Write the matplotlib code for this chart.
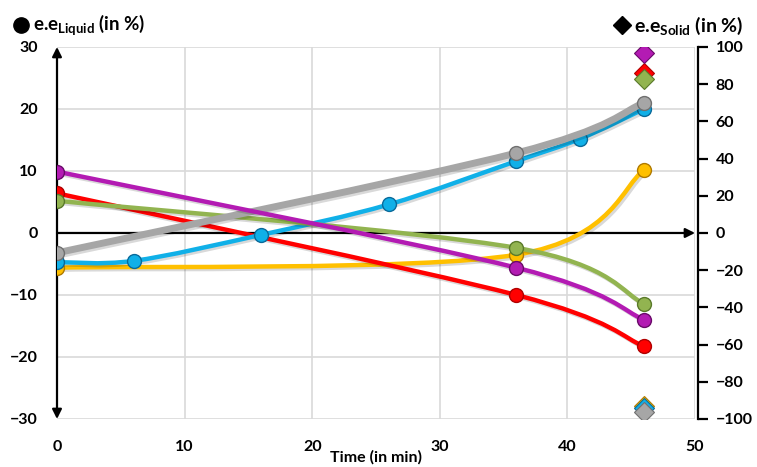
import numpy as np
import matplotlib.pyplot as plt
from matplotlib.path import Path
from matplotlib.patches import PathPatch
import matplotlib.patheffects as pe

plt.rcParams['font.family'] = ['Lato', 'DejaVu Sans']
plt.rcParams['mathtext.fontset'] = 'custom'
plt.rcParams['mathtext.rm'] = 'Lato'
plt.rcParams['mathtext.bf'] = 'Lato:bold'

# e.e of the liquid phase (left axis)
red_t = [0, 36, 46]
red_ee = [6.4, -10.0, -18.3]
magenta_t = [0, 36, 46]
magenta_ee = [9.9, -5.6, -14.0]
green_t = [0, 36, 46]
green_ee = [5.2, -2.4, -11.4]
yellow_t = [0, 36, 46]
yellow_ee = [-5.6, -3.5, 10.1]
gray_t = [0, 36, 46]
gray_ee = [-3.2, 12.9, 21.0]
blue_t = [0, 6, 16, 26, 36, 41, 46]
blue_ee = [-4.7, -4.5, -0.3, 4.6, 11.6, 15.2, 20.0]

# e.e of the solid phase (right axis), all at t = 46 min
solid_t = 46
solid_order = ['red', 'green', 'magenta', 'yellow', 'blue', 'gray']
solid_ee = {'red': 86, 'green': 83, 'magenta': 97,
            'yellow': -93, 'blue': -94, 'gray': -96}

colors = {'red': '#FF0000', 'magenta': '#B31BB3', 'green': '#92B450',
          'yellow': '#FFC000', 'gray': '#A6A6A6', 'blue': '#10B0E8'}
edges = {'red': '#B00000', 'magenta': '#6A0A6A', 'green': '#5A7A2A',
         'yellow': '#B07A00', 'gray': '#707070', 'blue': '#0A6A9A'}

series = [('yellow', yellow_t, yellow_ee, 3.2),
          ('red', red_t, red_ee, 3.2),
          ('blue', blue_t, blue_ee, 3.2),
          ('green', green_t, green_ee, 3.2),
          ('gray', gray_t, gray_ee, 5.0),
          ('magenta', magenta_t, magenta_ee, 3.2)]


def smooth_path(x, y):
    '''Excel-like smoothed line: cubic bezier through every point.'''
    p = np.column_stack([x, y]).astype(float)
    ext = np.vstack([p[0], p, p[-1]])
    verts = [p[0]]
    codes = [Path.MOVETO]
    for i in range(1, len(ext) - 2):
        p0, p1, p2, p3 = ext[i - 1], ext[i], ext[i + 1], ext[i + 2]
        c1 = p1 + (p2 - p0) / 6
        c2 = p2 - (p3 - p1) / 6
        verts += [c1, c2, p2]
        codes += [Path.CURVE4] * 3
    return Path(verts, codes)


fig = plt.figure(figsize=(7.57, 4.67), dpi=100)
ax = fig.add_axes([0.0753, 0.1028, 0.8428, 0.7966])
ax.set_xlim(0, 50)
ax.set_ylim(-30, 30)
for s in ax.spines.values():
    s.set_visible(False)
ax.set_xticks([0, 10, 20, 30, 40, 50])
ax.set_yticks([-30, -20, -10, 0, 10, 20, 30])
ax.grid(True, color='#D9D9D9', lw=1.2)
ax.tick_params(length=0, labelsize=11.5)
ax.tick_params(axis='x', pad=15)
ax.tick_params(axis='y', pad=14)
for lab in ax.get_xticklabels() + ax.get_yticklabels():
    lab.set_fontweight('bold')
ax.set_xlabel('Time (in min)', fontsize=11.5, fontweight='bold')
ax.xaxis.set_label_coords(0.5, -0.083)
ax.xaxis.label.set_va('top')

# arrow axes
ax.annotate('', xy=(0, 30), xytext=(0, -30),
            arrowprops=dict(arrowstyle='<|-|>', color='black', lw=1.6,
                            mutation_scale=14, shrinkA=0, shrinkB=0),
            annotation_clip=False, zorder=3)
ax.annotate('', xy=(50, 0), xytext=(0, 0),
            arrowprops=dict(arrowstyle='-|>', color='black', lw=1.6,
                            mutation_scale=14, shrinkA=0, shrinkB=0),
            annotation_clip=False, zorder=3)

shadow = [pe.SimpleLineShadow(offset=(1.5, -1.5), alpha=0.15, rho=0.4), pe.Normal()]
z = 4
for name, t, ee, lw in series:
    patch = PathPatch(smooth_path(t, ee), fill=False, edgecolor=colors[name],
                      lw=lw, capstyle='round', zorder=z, path_effects=shadow)
    ax.add_patch(patch)
    ax.plot(t, ee, 'o', ms=10, color=colors[name], mec=edges[name], mew=1.0,
            zorder=z + 0.5)
    z += 1

ax2 = ax.twinx()
ax2.set_ylim(-100, 100)
ax2.set_yticks(np.arange(-100, 101, 20))
for k, s in ax2.spines.items():
    s.set_visible(k == 'right')
ax2.spines['right'].set_linewidth(1.6)
ax2.spines['right'].set_position(('outward', 2))
ax2.tick_params(axis='y', direction='out', length=7, width=1.6, pad=6,
                labelsize=11.5)
for lab in ax2.get_yticklabels():
    lab.set_fontweight('bold')
for name in solid_order:
    ax2.plot(solid_t, solid_ee[name], 'D', ms=10, color=colors[name],
             mec=edges[name], mew=0.8, zorder=5)

# axis captions
ax.plot([0.028], [0.946], 'o', ms=11, color='black', transform=fig.transFigure,
        clip_on=False)
fig.text(0.043, 0.946, r'e.e$_{\mathbf{Liquid}}$ (in %)', fontsize=13.5,
         fontweight='bold', va='center', ha='left')
ax2.plot([0.822], [0.946], 'D', ms=9, color='black', transform=fig.transFigure,
         clip_on=False)
fig.text(0.838, 0.946, r'e.e$_{\mathbf{Solid}}$ (in %)', fontsize=14,
         fontweight='bold', va='center', ha='left')

fig.savefig('out.png', dpi=100)
